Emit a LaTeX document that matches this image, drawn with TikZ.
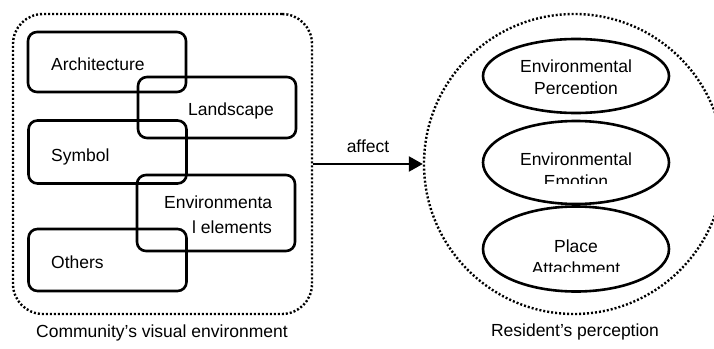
\documentclass[tikz,border=0pt]{standalone}
\usepackage{fontspec}
\setmainfont{Liberation Sans}
\usepackage{tikz}
\usetikzlibrary{positioning}
\usetikzlibrary{shapes.geometric}
\usetikzlibrary{arrows.meta}

\begin{document}
\begin{tikzpicture}[
    x=1pt, y=-1pt,
    font=\fontsize{17.5}{22}\selectfont,
    item box/.style={draw, line width=2.6pt, rounded corners=9pt, minimum width=158pt, inner sep=0pt},
    facet/.style={draw, ellipse, line width=2.6pt, minimum width=186pt, inner sep=0pt},
    dotted frame/.style={draw, line width=2.4pt, dash pattern=on 2pt off 2pt, inner sep=0pt},
    word/.style={anchor=base west, inner sep=0pt},
    facet word/.style={anchor=base, inner sep=0pt},
    affect arrow/.style={line width=2.4pt, -{Triangle[length=14pt, width=15pt]}}
]
    \useasboundingbox (0,0) rectangle (714,348);

    % community side
    \node (visenv) at (162.5,164) [dotted frame, rounded corners=30pt, minimum width=299pt, minimum height=300pt] {};

    \node (arch) at (107,62) [item box, minimum height=60pt] {};
    \node (land) at (217,107.5) [item box, minimum height=61pt] {};
    \node (sym) at (107.5,152) [item box, minimum height=63pt] {};
    \node (envel) at (216,213) [item box, minimum height=76pt] {};
    \node (oth) at (107.5,260) [item box, minimum height=62pt] {};

    \node (archtxt) at (51,70) [word] {Architecture};
    \node (landtxt) at (188,115) [word] {Landscape};
    \node (symtxt) at (51,161) [word] {Symbol};
    \node (enveltxta) at (164,208) [word] {Environmenta};
    \node (enveltxtb) at (192,233) [word] {l elements};
    \node (othtxt) at (51,268) [word] {Others};

    \node (visenvlbl) at (162,337) [facet word] {Community’s visual environment};

    % resident side
    \node (perc) at (574,164) [dotted frame, circle, minimum size=300pt] {};

    \node (eperc) at (576,76) [facet, minimum height=74pt] {};
    \node (eemo) at (576,162.5) [facet, minimum height=83pt] {};
    \node (place) at (576,249) [facet, minimum height=85pt] {};

    \node (epercA) at (576,72) [facet word] {Environmental};
    \begin{scope}
        \clip (470,80) rectangle (680,93.5);
        \node (epercB) at (576,94) [facet word] {Perception};
    \end{scope}
    \node (eemoA) at (576,165) [facet word] {Environmental};
    \begin{scope}
        \clip (470,170) rectangle (680,183);
        \node (eemoB) at (576,187) [facet word] {Emotion};
    \end{scope}
    \node (placeA) at (576,252) [facet word] {Place};
    \begin{scope}
        \clip (470,256) rectangle (680,271);
        \node (placeB) at (576,274) [facet word] {Attachment};
    \end{scope}

    \node (perclbl) at (575,336) [facet word] {Resident’s perception};

    \draw[affect arrow] (visenv) -- (perc) node[midway, above=10pt, inner sep=0pt] (affect) {affect};

\end{tikzpicture}
\end{document}
